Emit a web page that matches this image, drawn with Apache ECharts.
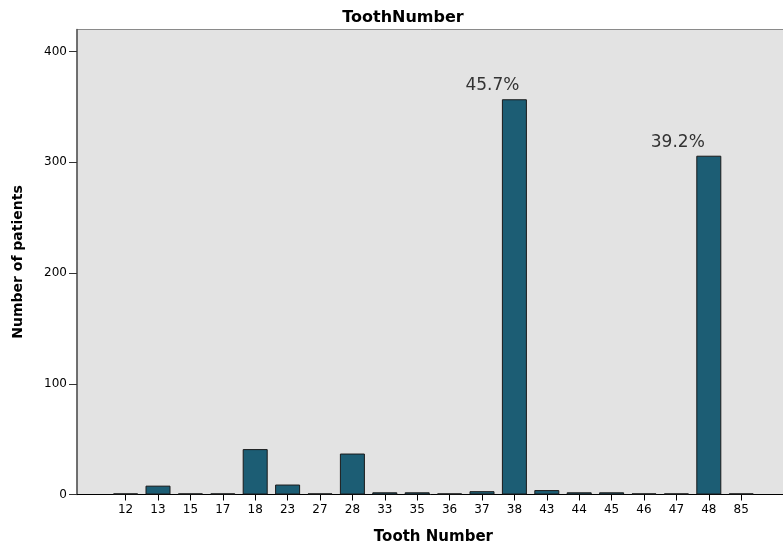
<!DOCTYPE html>
<html>
<head>
<meta charset="utf-8">
<script src="https://cdn.jsdelivr.net/npm/echarts@6/dist/echarts.min.js"></script>
<style>
html,body{margin:0;padding:0;background:#fff;}
#chart{width:783px;height:546px;}
</style>
</head>
<body>
<div id="chart"></div>
<script>
var toothNumbers = ['12','13','15','17','18','23','27','28','33','35','36','37','38','43','44','45','46','47','48','85'];
var patientCounts = [1, 8, 1, 1, 41, 9, 1, 37, 2, 2, 1, 3, 357, 4, 2, 2, 1, 1, 306, 1];
var labeledTeeth = ['38', '48'];
var yTicks = [0, 100, 200, 300, 400];

var total = patientCounts.reduce(function (a, b) { return a + b; }, 0);
var labelShift = { '38': -22, '48': -31 };

var axisData = [''].concat(toothNumbers).concat(['']);
var seriesData = ['-'].concat(patientCounts.map(function (v, i) {
  var t = toothNumbers[i];
  if (labeledTeeth.indexOf(t) >= 0) {
    return {
      value: v,
      label: {
        show: true,
        position: 'top',
        distance: 5,
        offset: [labelShift[t], 0],
        formatter: (v / total * 100).toFixed(1) + '%'
      }
    };
  }
  return v;
})).concat(['-']);

var chart = echarts.init(document.getElementById('chart'), null, { renderer: 'canvas' });
chart.setOption({
  animation: false,
  backgroundColor: '#ffffff',
  textStyle: { fontFamily: 'DejaVu Sans' },
  title: {
    text: 'ToothNumber',
    left: 398,
    top: 5,
    textAlign: 'center',
    textStyle: { fontFamily: 'DejaVu Sans', fontWeight: 'bold', fontSize: 16, color: '#000' }
  },
  grid: {
    left: 77,
    top: 29.5,
    width: 712.8,
    bottom: 51.5,
    containLabel: false,
    outerBoundsMode: 'none',
    show: true,
    backgroundColor: '#e3e3e3',
    borderColor: '#8a8a8a',
    borderWidth: 1
  },
  xAxis: {
    type: 'category',
    data: axisData,
    boundaryGap: true,
    name: 'Tooth Number',
    nameLocation: 'middle',
    nameGap: 35,
    nameTextStyle: { fontFamily: 'DejaVu Sans', fontWeight: 'bold', fontSize: 15, color: '#000' },
    axisLine: { show: true, lineStyle: { color: '#000', width: 1 } },
    axisTick: {
      show: true,
      alignWithLabel: true,
      length: 6,
      interval: function (index, value) { return value !== ''; },
      lineStyle: { color: '#000' }
    },
    axisLabel: { interval: 0, fontSize: 12, color: '#000', margin: 9, fontFamily: 'DejaVu Sans' },
    splitLine: { show: false }
  },
  yAxis: {
    type: 'value',
    min: 0,
    max: 420,
    interval: 100,
    name: 'Number of patients',
    nameLocation: 'middle',
    nameGap: 52,
    nameTextStyle: { fontFamily: 'DejaVu Sans', fontWeight: 'bold', fontSize: 14, color: '#000' },
    axisLine: { show: true, lineStyle: { color: '#555', width: 1.5 } },
    axisTick: { show: true, length: 8, customValues: yTicks, lineStyle: { color: '#333' } },
    axisLabel: { customValues: yTicks, fontSize: 12, color: '#000', margin: 10, fontFamily: 'DejaVu Sans' },
    splitLine: { show: false }
  },
  series: [{
    type: 'bar',
    data: seriesData,
    barWidth: 25,
    itemStyle: { color: '#1c5d74', borderColor: '#1a1a1a', borderWidth: 1 },
    label: { fontSize: 17, color: '#333', fontFamily: 'DejaVu Sans' }
  }]
});
</script>
</body>
</html>
